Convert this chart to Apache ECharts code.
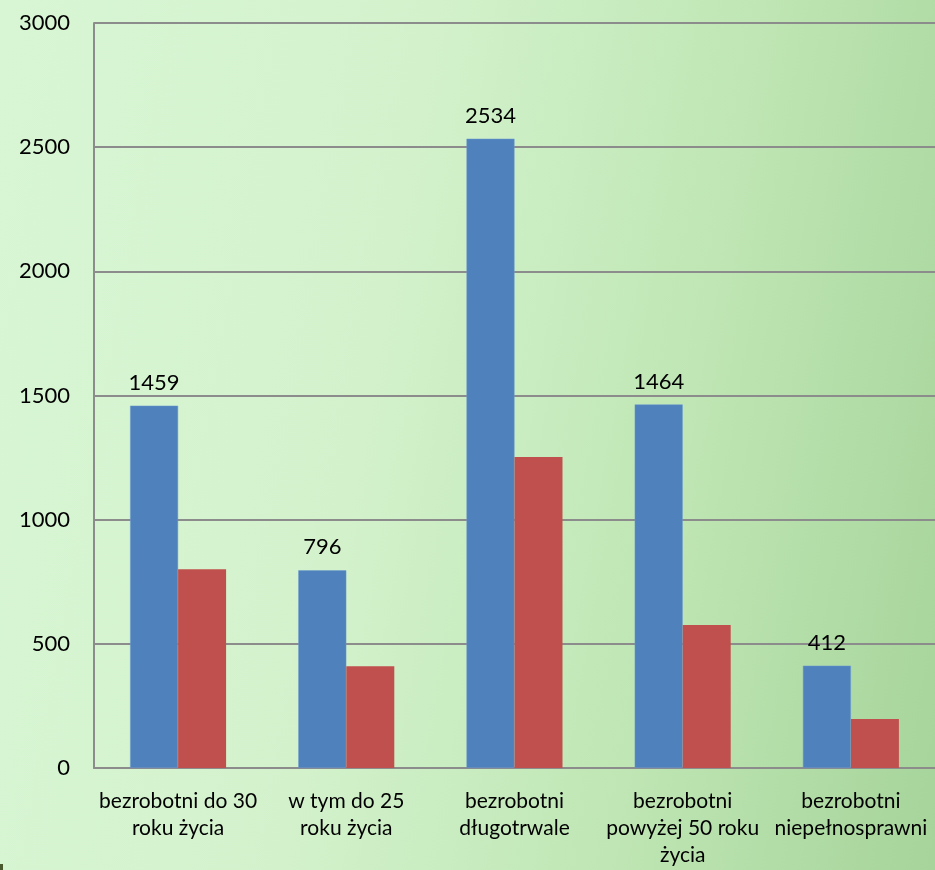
<!DOCTYPE html>
<html>
<head>
<meta charset="utf-8">
<script src="https://cdn.jsdelivr.net/npm/echarts@6/dist/echarts.min.js"></script>
<style>
html,body{margin:0;padding:0;}
#chart{width:935px;height:870px;background:linear-gradient(100deg,#d8f6d4 0%,#d3f2cc 40%,#bfe6b4 70%,#a6d49a 100%);}
</style>
</head>
<body>
<div id="chart"></div>
<script>
const categories = ["bezrobotni do 30\nroku życia", "w tym do 25\nroku życia", "bezrobotni\ndługotrwale", "bezrobotni\npowyżej 50 roku\nżycia", "bezrobotni\nniepełnosprawni"];
const seriesBlue = [1459, 796, 2534, 1464, 412];
const seriesRed = [800, 410, 1252, 576, 197];
const yTicks = [0, 500, 1000, 1500, 2000, 2500, 3000];

const chart = echarts.init(document.getElementById('chart'), null, {renderer: 'canvas'});
const fontFamily = 'Lato, "Open Sans", sans-serif';
chart.setOption({
  backgroundColor: 'transparent',
  animation: false,
  grid: {left: 94, top: 23, bottom: 102, width: 845, containLabel: false},
  xAxis: {
    type: 'category',
    data: categories,
    axisLine: {show: true, lineStyle: {color: '#8c8c8c', width: 2}},
    axisTick: {show: false},
    axisLabel: {color: '#000', fontSize: 21, fontFamily: fontFamily, lineHeight: 27, margin: 20, interval: 0}
  },
  yAxis: {
    type: 'value',
    min: yTicks[0],
    max: yTicks[yTicks.length - 1],
    interval: 500,
    axisLine: {show: true, lineStyle: {color: '#8c8c8c', width: 2}},
    axisTick: {show: false},
    splitLine: {show: true, lineStyle: {color: '#8c8c8c', width: 2}},
    axisLabel: {color: '#000', fontSize: 22, fontFamily: fontFamily, margin: 24, formatter: function (v) { return String(v); }}
  },
  series: [
    {
      type: 'bar',
      data: seriesBlue,
      barWidth: 48,
      barGap: '0%',
      itemStyle: {color: '#4f81bd', borderColor: '#6f9bd0', borderWidth: 0.5},
      label: {show: true, position: 'top', distance: 12, color: '#000', fontSize: 22, fontFamily: fontFamily}
    },
    {
      type: 'bar',
      data: seriesRed,
      barWidth: 48,
      barGap: '0%',
      itemStyle: {color: '#c0504d'}
    }
  ],
  graphic: [{type: 'rect', left: 0, top: 864, shape: {width: 3, height: 6}, style: {fill: '#4a5a30'}}]
});
</script>
</body>
</html>
